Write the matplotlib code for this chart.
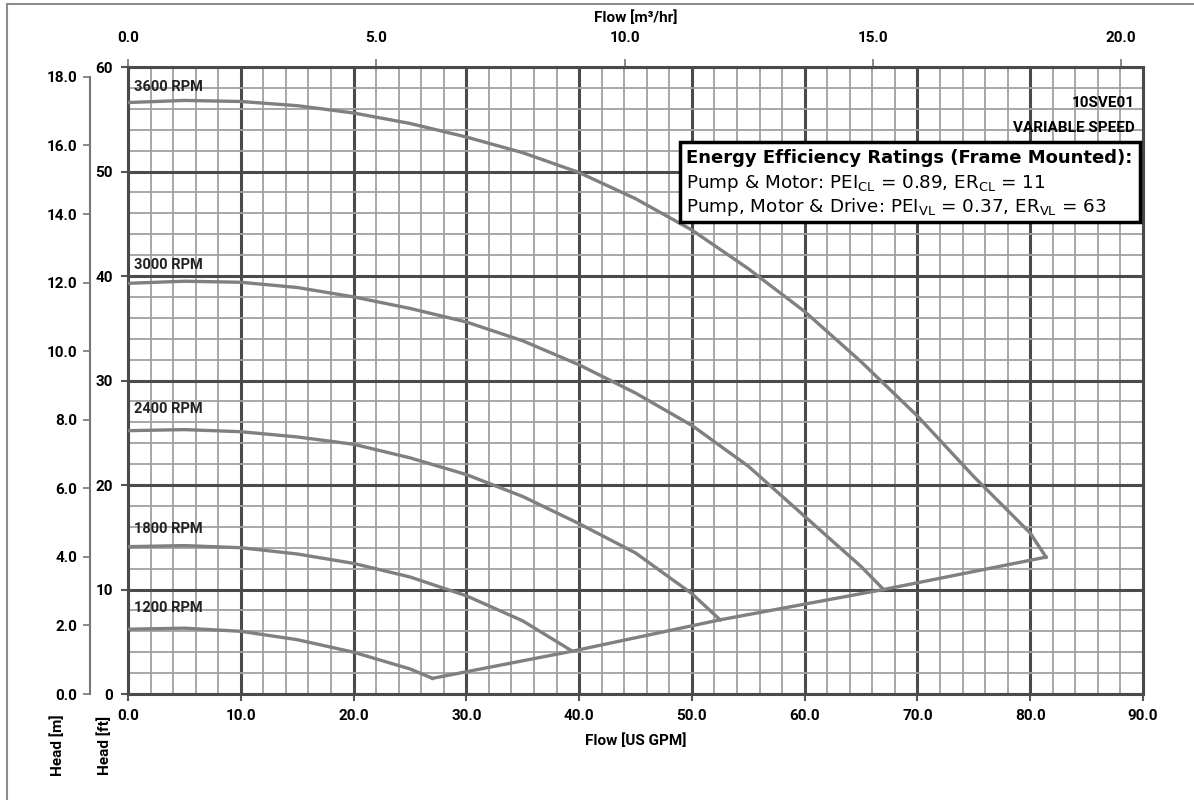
import matplotlib
matplotlib.use('Agg')
import matplotlib.pyplot as plt
from matplotlib.lines import Line2D
import numpy as np

# pump curves, flow in US GPM, head in ft
gpm_3600 = [0, 5, 10, 15, 20, 25, 30, 35, 40, 45, 50, 55, 60, 65, 70, 75, 80, 81.4]
head_3600 = [56.6, 56.8, 56.7, 56.3, 55.6, 54.6, 53.3, 51.8, 49.9, 47.4, 44.4, 40.7, 36.6, 31.8, 26.6, 20.8, 15.4, 13.1]

gpm_3000 = [0, 5, 10, 15, 20, 25, 30, 35, 40, 45, 50, 55, 60, 65, 67.0]
head_3000 = [39.3, 39.5, 39.4, 38.9, 38.0, 36.9, 35.6, 33.8, 31.5, 28.8, 25.7, 21.8, 17.0, 12.2, 10.0]

gpm_2400 = [0, 5, 10, 15, 20, 25, 30, 35, 40, 45, 50, 52.5]
head_2400 = [25.2, 25.3, 25.1, 24.6, 23.9, 22.6, 21.0, 18.9, 16.3, 13.5, 9.6, 7.1]

gpm_1800 = [0, 5, 10, 15, 20, 25, 30, 35, 39.4]
head_1800 = [14.1, 14.2, 14.0, 13.4, 12.5, 11.2, 9.4, 7.0, 4.1]

gpm_1200 = [0, 5, 10, 15, 20, 25, 27.0]
head_1200 = [6.2, 6.3, 6.0, 5.2, 4.0, 2.4, 1.5]

speed_labels = ['3600 RPM', '3000 RPM', '2400 RPM', '1800 RPM', '1200 RPM']
label_heads = [58.1, 41.1, 27.3, 15.8, 8.2]

gpm_ticks = np.arange(0, 91, 10)
m3h_ticks = [0, 5, 10, 15, 20]
ft_ticks = np.arange(0, 61, 10)
m_ticks = np.arange(0, 19, 2)

GPM_TO_M3H = 0.2271247
FT_TO_M = 0.3048

plt.rcParams['font.family'] = ['Roboto', 'DejaVu Sans']
plt.rcParams['font.weight'] = 'bold'
plt.rcParams['axes.labelweight'] = 'bold'

FS = 11

fig = plt.figure(figsize=(11.94, 8), dpi=100)
ax = fig.add_axes([128 / 1194, 1 - 694 / 800, 1015 / 1194, 627 / 800])

curves = [(gpm_3600, head_3600), (gpm_3000, head_3000), (gpm_2400, head_2400),
          (gpm_1800, head_1800), (gpm_1200, head_1200)]
for (q, h), lab, ly in zip(curves, speed_labels, label_heads):
    ax.plot(q, h, color='#808080', lw=2.4, zorder=3, solid_joinstyle='round')
    ax.text(0.5, ly, lab, fontsize=10.5, fontweight='bold', color='#222222',
            va='center', ha='left', zorder=4)

# system line through the end points of the speed curves
sys_q = [c[0][-1] for c in curves][::-1]
sys_h = [c[1][-1] for c in curves][::-1]
ax.plot(sys_q, sys_h, color='#808080', lw=2.4, zorder=3)

ax.set_xlim(0, 90)
ax.set_ylim(0, 60)
ax.set_xticks(gpm_ticks)
ax.set_xticks(np.arange(0, 91, 2), minor=True)
ax.set_yticks(ft_ticks)
ax.set_yticks(np.arange(0, 61, 2), minor=True)
ax.set_xticklabels([f'{v:.1f}' for v in gpm_ticks])
ax.set_yticklabels([f'{v:d}' for v in ft_ticks])
ax.grid(which='major', color='#4a4a4a', lw=2.2)
ax.grid(which='minor', color='#a0a0a0', lw=1.3)
ax.set_axisbelow(True)
ax.tick_params(which='minor', length=0)
ax.tick_params(which='major', length=5, width=1.5, color='#555555',
               labelsize=FS, pad=6)
for sp in ax.spines.values():
    sp.set_color('#4a4a4a')
    sp.set_linewidth(2.2)

ax.set_xlabel('Flow [US GPM]', fontsize=FS, fontweight='bold', labelpad=7)

# top axis in m3/hr
top = ax.secondary_xaxis('top', functions=(lambda q: q * GPM_TO_M3H, lambda m: m / GPM_TO_M3H))
top.set_xticks(m3h_ticks)
top.set_xticklabels([f'{v:.1f}' for v in m3h_ticks])
top.tick_params(length=6, width=1.2, color='#777777', labelsize=FS, pad=10)
top.spines['top'].set_visible(False)
top.set_xlabel('Flow [m³/hr]', fontsize=FS, fontweight='bold', labelpad=6)

# left axis in metres
left = ax.secondary_yaxis(-38 / 1015, functions=(lambda f: f * FT_TO_M, lambda m: m / FT_TO_M))
left.set_yticks(m_ticks)
left.set_yticklabels([f'{v:.1f}' for v in m_ticks])
left.tick_params(length=5, width=1.2, color='#777777', labelsize=FS, pad=4)
left.spines['left'].set_color('#777777')
left.spines['left'].set_linewidth(1.5)
left.spines['left'].set_bounds(0, 18)

fig.text(58 / 1194, 1 - 745 / 800, 'Head [m]', rotation=90, fontsize=FS,
         fontweight='bold', ha='center', va='center')
fig.text(105 / 1194, 1 - 745 / 800, 'Head [ft]', rotation=90, fontsize=FS,
         fontweight='bold', ha='center', va='center')

# model name
ax.text(89.3, (694 - 103) / 10.45, '10SVE01', fontsize=FS, fontweight='bold',
        ha='right', va='center', zorder=4)
ax.text(89.3, (694 - 128) / 10.45, 'VARIABLE SPEED', fontsize=FS, fontweight='bold',
        ha='right', va='center', zorder=4)

# efficiency box
bx0 = (680 - 128) / 11.28
bx1 = (1140 - 128) / 11.28
by0 = (694 - 222) / 10.45
by1 = (694 - 142) / 10.45
ax.fill([bx0, bx1, bx1, bx0], [by0, by0, by1, by1], facecolor='white',
        edgecolor='black', lw=2.5, zorder=5)
tx = (686 - 128) / 11.28
box_font = ['DejaVu Sans']
ax.text(tx, (694 - 158) / 10.45, 'Energy Efficiency Ratings (Frame Mounted):',
        fontsize=13, fontweight='bold', family=box_font, va='center', ha='left', zorder=6)
ax.text(tx, (694 - 183) / 10.45,
        r'Pump & Motor: PEI$_{\mathregular{CL}}$ = 0.89, ER$_{\mathregular{CL}}$ = 11',
        fontsize=13.2, fontweight='normal', family=box_font, va='center', ha='left', zorder=6)
ax.text(tx, (694 - 207) / 10.45,
        r'Pump, Motor & Drive: PEI$_{\mathregular{VL}}$ = 0.37, ER$_{\mathregular{VL}}$ = 63',
        fontsize=13.2, fontweight='normal', family=box_font, va='center', ha='left', zorder=6)

# frame lines of the original picture
fig.add_artist(Line2D([7 / 1194, 1], [1 - 4 / 800, 1 - 4 / 800], color='#8c8c8c', lw=1.5))
fig.add_artist(Line2D([7 / 1194, 7 / 1194], [0, 1 - 4 / 800], color='#8c8c8c', lw=1.5))

plt.savefig('out.png', dpi=100)
